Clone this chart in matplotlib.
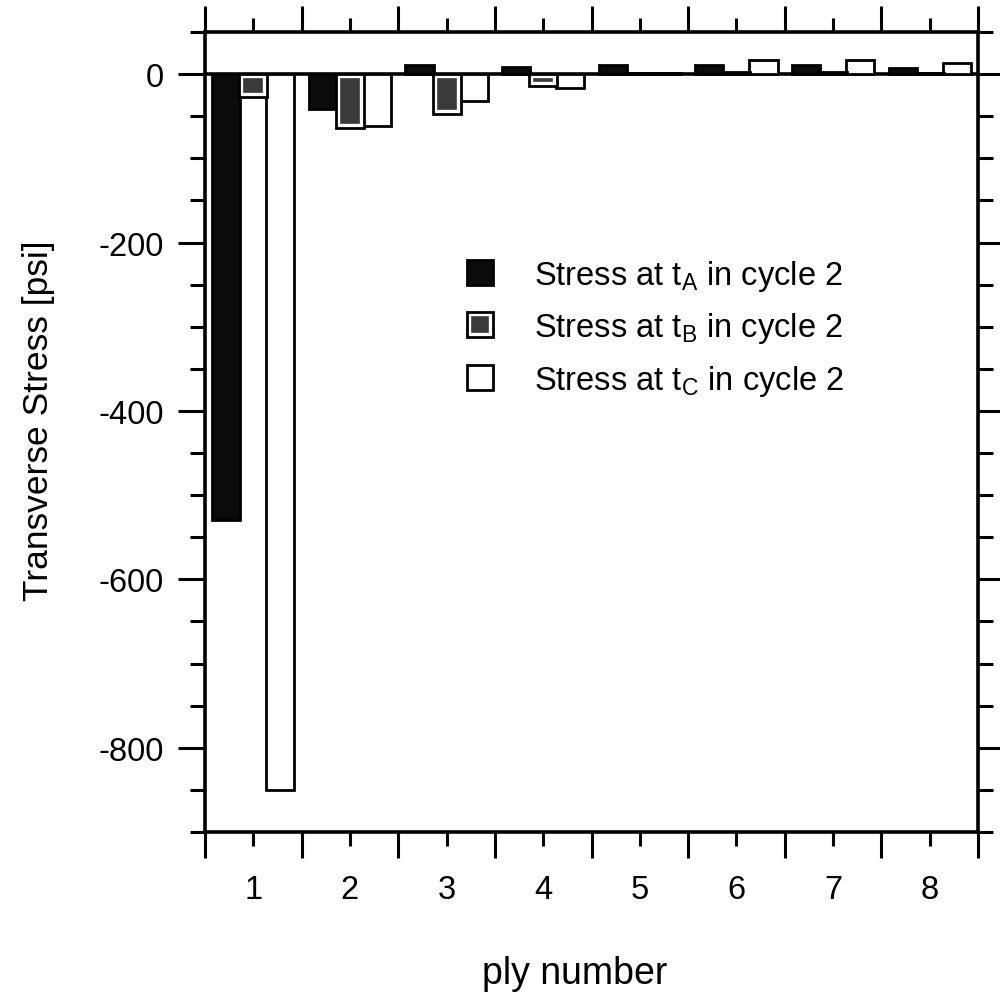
import matplotlib
matplotlib.use("Agg")
import matplotlib.pyplot as plt
from matplotlib.ticker import MultipleLocator, FixedLocator, NullFormatter
from matplotlib.patches import Rectangle
from matplotlib.legend_handler import HandlerTuple
import numpy as np

plt.rcParams['font.family'] = ['Liberation Sans', 'DejaVu Sans']
plt.rcParams['mathtext.default'] = 'regular'
plt.rcParams['axes.unicode_minus'] = False

# ---- data ----
plies = [1, 2, 3, 4, 5, 6, 7, 8]
stress_tA = [-530, -41, 11, 8, 11, 11, 11, 7]
stress_tB = [-27, -64, -47, -14, 1, 2, 2, 1]
stress_tC = [-850, -62, -32, -17, 1, 17, 17, 13]
labels = ["Stress at t$_{A}$ in cycle 2",
          "Stress at t$_{B}$ in cycle 2",
          "Stress at t$_{C}$ in cycle 2"]
xlabel = "ply number"
ylabel = "Transverse Stress [psi]"

fig = plt.figure(figsize=(10, 9.95), dpi=100)
ax = fig.add_axes([0.205, 1 - 833 / 995, 0.773, 800 / 995])

x = np.array(plies, dtype=float)
w = 0.29
off = 0.28
elw = 2.0

# zero line
ax.axhline(0, color='black', lw=2.6, zorder=1)

barsA = ax.bar(x - off, stress_tA, width=w, facecolor='#0b0b0b', edgecolor='black', lw=elw, zorder=3)
barsC = ax.bar(x + off, stress_tC, width=w, facecolor='white', edgecolor='black', lw=elw, zorder=3)
# B bars: dark stipple fill, inner white ring, black outline
barsB_in = ax.bar(x, stress_tB, width=w, facecolor='#3a3a3a', edgecolor='white', lw=6, zorder=3)
for r in barsB_in:
    r.set_clip_path(r)
barsB_out = ax.bar(x, stress_tB, width=w, facecolor='none', edgecolor='black', lw=elw, zorder=4)

ax.set_xlim(0.5, 8.5)
ax.set_ylim(-900, 50)

for s in ax.spines.values():
    s.set_linewidth(2.6)

ax.xaxis.set_major_locator(FixedLocator(plies))
ax.xaxis.set_minor_locator(MultipleLocator(1, offset=0.5))
ax.xaxis.set_minor_formatter(NullFormatter())
ax.yaxis.set_major_locator(MultipleLocator(200))
ax.yaxis.set_minor_locator(MultipleLocator(50))

ax.tick_params(axis='x', which='major', direction='out', length=10, width=2.2,
               top=True, bottom=True, labelsize=23.5, pad=20)
ax.tick_params(axis='x', which='minor', direction='out', length=19, width=2.2,
               top=True, bottom=True)
ax.tick_params(axis='y', which='major', direction='out', length=19.4, width=2.2,
               left=True, right=True, labelsize=23.5, pad=10)
ax.tick_params(axis='y', which='minor', direction='out', length=10.8, width=2.2,
               left=True, right=True)

ax.set_xlabel(xlabel, fontsize=27)
ax.set_ylabel(ylabel, fontsize=25.5)
ax.xaxis.set_label_coords((575 - 205) / 773, -(956 - 833) / 800)
ax.yaxis.set_label_coords((55 - 205) / 773, (833 - 421) / 800)

hA = Rectangle((0, 0), 1, 1, facecolor='#0b0b0b', edgecolor='black', lw=elw)
hB1 = Rectangle((0, 0), 1, 1, facecolor='#3a3a3a', edgecolor='white', lw=6)
hB2 = Rectangle((0, 0), 1, 1, facecolor='none', edgecolor='black', lw=elw)
hC = Rectangle((0, 0), 1, 1, facecolor='white', edgecolor='black', lw=elw)

leg = ax.legend([hA, (hB1, hB2), hC], labels,
                handler_map={tuple: HandlerTuple(ndivide=1, pad=0)},
                loc='upper left', bbox_to_anchor=(467 / 1000, 1 - 259 / 995),
                bbox_transform=fig.transFigure, frameon=False, fontsize=23.5,
                borderpad=0, borderaxespad=0, handlelength=0.8, handleheight=0.8,
                handletextpad=1.25, labelspacing=0.53)

fig.savefig("out.png", dpi=100)
